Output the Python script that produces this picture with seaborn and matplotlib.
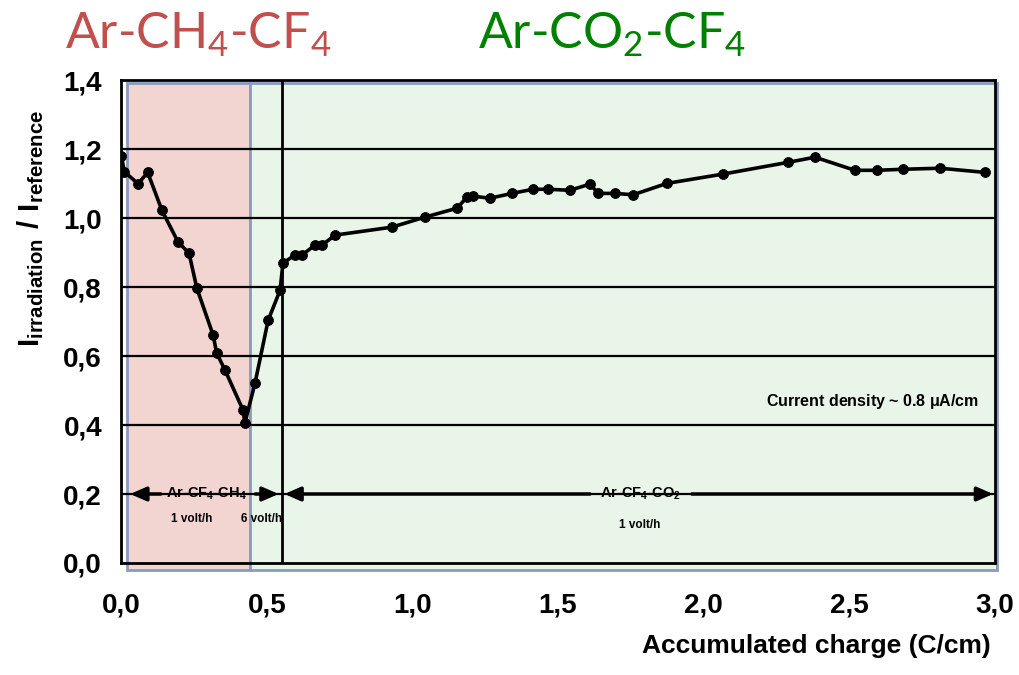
import matplotlib
matplotlib.use("Agg")
import matplotlib.pyplot as plt
import seaborn as sns
import pandas as pd
from matplotlib.patches import Rectangle

# ---- data ----
charge = [0.0, 0.01, 0.057, 0.09, 0.139, 0.195, 0.232, 0.259, 0.315, 0.327, 0.356, 0.418, 0.424,
          0.459, 0.504, 0.545, 0.555, 0.596, 0.62, 0.665, 0.689, 0.734, 0.929, 1.042, 1.153,
          1.187, 1.208, 1.266, 1.342, 1.414, 1.466, 1.541, 1.61, 1.638, 1.696, 1.758, 1.874,
          2.067, 2.29, 2.383, 2.52, 2.596, 2.686, 2.813, 2.967]
ratio = [1.18, 1.135, 1.10, 1.133, 1.023, 0.93, 0.899, 0.797, 0.661, 0.609, 0.559, 0.443, 0.406,
         0.522, 0.704, 0.791, 0.87, 0.893, 0.893, 0.922, 0.922, 0.951, 0.974, 1.003, 1.029,
         1.061, 1.064, 1.058, 1.072, 1.084, 1.084, 1.081, 1.099, 1.072, 1.072, 1.068, 1.101,
         1.128, 1.162, 1.177, 1.139, 1.139, 1.142, 1.145, 1.133]
xticks = [0.0, 0.5, 1.0, 1.5, 2.0, 2.5, 3.0]
xtick_labels = ["0,0", "0,5", "1,0", "1,5", "2,0", "2,5", "3,0"]
yticks = [0.0, 0.2, 0.4, 0.6, 0.8, 1.0, 1.2, 1.4]
ytick_labels = ["0,0", "0,2", "0,4", "0,6", "0,8", "1,0", "1,2", "1,4"]
regions = {"Ar-CH4-CF4": (0.019, 0.442), "Ar-CO2-CF4": (0.442, 3.007)}
switch_x = 0.55

df = pd.DataFrame({"charge": charge, "ratio": ratio})

sns.set_theme(style="white")
plt.rcParams["font.family"] = ["Liberation Sans", "DejaVu Sans"]
plt.rcParams["text.color"] = "black"
plt.rcParams["xtick.color"] = "black"
plt.rcParams["ytick.color"] = "black"
plt.rcParams["axes.labelcolor"] = "black"
plt.rcParams["mathtext.fontset"] = "custom"
plt.rcParams["mathtext.rm"] = "Lato"
plt.rcParams["mathtext.bf"] = "Liberation Sans:bold"

fig = plt.figure(figsize=(10.19, 6.75), dpi=100)
ax = fig.add_axes([0.1192, 0.166, 0.8568, 0.715])

ax.set_xlim(0, 3.0)
ax.set_ylim(0, 1.4)

# shaded regions
y0, y1 = -0.02, 1.392
(r0, r1) = regions["Ar-CH4-CF4"]
(g0, g1) = regions["Ar-CO2-CF4"]
ax.add_patch(Rectangle((r0, y0), r1 - r0, y1 - y0, facecolor="#F2D4D0", edgecolor="#8A9AC0",
                       lw=2, zorder=0, clip_on=False))
ax.add_patch(Rectangle((g0, y0), g1 - g0, y1 - y0, facecolor="#E9F5E9", edgecolor="#8A9AC0",
                       lw=2, zorder=0, clip_on=False))

# grid lines
for yv in yticks[1:-1]:
    ax.axhline(yv, color="black", lw=1.6, zorder=1)
ax.axvline(switch_x, color="black", lw=2, zorder=1)

sns.lineplot(data=df, x="charge", y="ratio", marker="o", markersize=7, color="black",
             lw=2.6, estimator=None, sort=False, ax=ax, zorder=3, markeredgecolor="black")

# ticks
ax.set_xticks(xticks)
ax.set_xticklabels(xtick_labels)
ax.set_xticks([i / 10 for i in range(31)], minor=True)
ax.set_yticks(yticks)
ax.set_yticklabels(ytick_labels)
ax.tick_params(axis="x", which="major", direction="inout", length=14, width=2, pad=14,
               labelsize=20, colors="black")
ax.tick_params(axis="x", which="minor", direction="in", length=6, width=1.5, colors="black")
ax.tick_params(axis="y", which="major", direction="out", length=8, width=2, pad=6,
               labelsize=20, colors="black")
for lab in ax.get_xticklabels() + ax.get_yticklabels():
    lab.set_fontweight("bold")
for s in ax.spines.values():
    s.set_color("black")
    s.set_linewidth(2)
    s.set_visible(True)

ax.set_xlabel("")
ax.set_ylabel("")
fig.text(0.972, 0.025, "Accumulated charge (C/cm)", ha="right", va="bottom",
         fontsize=19, fontweight="bold", color="black")
fig.text(0.03, 1 - 228 / 675,
         r"$\mathbf{I}_{\mathbf{irradiation}}\mathbf{\ /\ I}_{\mathbf{reference}}$",
         rotation=90, ha="center", va="center", fontsize=21, color="black")

# arrows / annotations
arrow_kw = dict(arrowstyle="-|>,head_length=0.8,head_width=0.35", color="black", lw=2.5,
                shrinkA=0, shrinkB=0)
ax.annotate("", xy=(0.03, 0.2), xytext=(0.135, 0.2), arrowprops=arrow_kw)
ax.text(0.29, 0.2, r"Ar-CF$_\mathbf{4}$-CH$_\mathbf{4}$", ha="center", va="center",
        fontsize=10.5, fontweight="bold", color="black")
ax.annotate("", xy=(0.54, 0.2), xytext=(0.46, 0.2), arrowprops=arrow_kw)
ax.text(0.242, 0.128, "1 volt/h", ha="center", va="center", fontsize=8.5, fontweight="bold")
ax.text(0.483, 0.128, "6 volt/h", ha="center", va="center", fontsize=8.5, fontweight="bold")
ax.annotate("", xy=(0.56, 0.2), xytext=(1.61, 0.2), arrowprops=arrow_kw)
ax.text(1.782, 0.2, r"Ar-CF$_\mathbf{4}$-CO$_\mathbf{2}$", ha="center", va="center",
        fontsize=10.5, fontweight="bold", color="black")
ax.annotate("", xy=(2.995, 0.2), xytext=(1.96, 0.2), arrowprops=arrow_kw)
ax.text(1.782, 0.11, "1 volt/h", ha="center", va="center", fontsize=8.5, fontweight="bold")
ax.text(2.58, 0.467, r"Current density ~ 0.8 $\mathbf{\mu}$A/cm", ha="center", va="center",
        fontsize=11.5, fontweight="bold")

# titles
fig.text(65 / 1019, 1 - 49 / 675, r"Ar-CH$_\mathrm{4}$-CF$_\mathrm{4}$", color="#C0504D",
         fontsize=36, family="Lato", ha="left", va="baseline")
fig.text(478 / 1019, 1 - 49 / 675, r"Ar-CO$_\mathrm{2}$-CF$_\mathrm{4}$", color="#008000",
         fontsize=36, family="Lato", ha="left", va="baseline")

fig.savefig("out.png", dpi=100)
